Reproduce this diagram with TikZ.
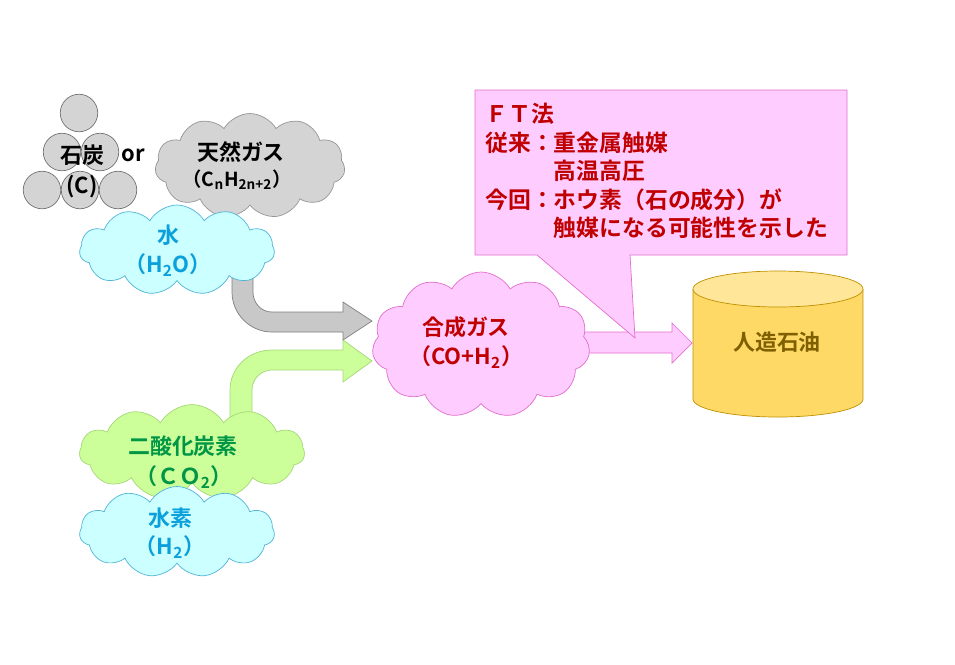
\documentclass[tikz,border=0pt]{standalone}
\usepackage{fontspec}
\setmainfont{Noto Sans CJK JP}[BoldFont={* Bold}]
\usetikzlibrary{shapes.symbols}
\definecolor{grayfill}{RGB}{212,212,212}
\definecolor{grayarrow}{RGB}{200,200,200}
\definecolor{graybd}{RGB}{150,150,150}
\definecolor{cyanfill}{RGB}{204,255,255}
\definecolor{cyanbd}{RGB}{80,180,215}
\definecolor{cyantext}{RGB}{10,160,220}
\definecolor{greenfill}{RGB}{204,255,153}
\definecolor{greenbd}{RGB}{165,215,120}
\definecolor{greentext}{RGB}{0,150,70}
\definecolor{pinkfill}{RGB}{255,204,255}
\definecolor{pinkbd}{RGB}{225,110,205}
\definecolor{redtext}{RGB}{192,0,0}
\definecolor{oilbody}{RGB}{255,217,102}
\definecolor{oiltop}{RGB}{255,230,153}
\definecolor{oilbd}{RGB}{191,144,0}
\definecolor{oiltext}{RGB}{127,96,0}
\begin{document}
\begin{tikzpicture}[x=0.02cm,y=-0.02cm,
  lbl/.style={font=\bfseries\fontsize{12.5}{17}\selectfont,align=center,inner sep=0},
  coal/.style={circle,draw=gray!90!black,fill=grayfill,minimum size=0.75cm,inner sep=0},
  puff/.style={cloud,cloud puffs=11,cloud puff arc=120,cloud ignores aspect,inner sep=0}]
\useasboundingbox (0,0) rectangle (955,664);
% coal
\node[coal] (c1) at (79,113) {};
\node[coal] (c2) at (62,152) {};
\node[coal] (c3) at (100,152) {};
\node[coal] (c4) at (42,190) {};
\node[coal] (c5) at (80,190) {};
\node[coal] (c6) at (118,190) {};
\node[lbl] (coaltxt) at (82,155) {石炭};
\node[lbl] (coalc) at (82,187) {(C)};
\node[lbl] (or) at (133,155) {or};
% natural gas
\node[puff,draw=graybd,fill=grayfill,minimum width=3.8cm,minimum height=2.1cm] (gas) at (250,166) {};
\node[lbl] (gastxt) at (241,152) {天然ガス};
\node[lbl,font=\bfseries\fontsize{11}{14}\selectfont] (gasf) at (237,180) {（C\textsubscript{n}H\textsubscript{2n+2}）};
% arrows into syngas
\filldraw[draw=gray,fill=grayarrow] (232,270) -- (232,292) .. controls (232,314) and (250,332) .. (272,332)
  -- (343,332) -- (343,340) -- (372,321) -- (343,302) -- (343,312) -- (272,312)
  .. controls (261,312) and (253,303) .. (253,292) -- (253,270) -- cycle;
\filldraw[draw=greenbd,fill=greenfill] (230,420) -- (230,390) .. controls (230,368) and (248,350) .. (272,350)
  -- (343,350) -- (343,340) -- (372,361) -- (343,382) -- (343,370) -- (272,370)
  .. controls (261,370) and (252,379) .. (252,390) -- (252,420) -- cycle;
% water
\node[puff,draw=cyanbd,fill=cyanfill,minimum width=3.9cm,minimum height=1.8cm] (water) at (177,250) {};
\node[lbl,text=cyantext] (watertxt) at (168,235) {水};
\node[lbl,text=cyantext] (waterf) at (168,265) {（H\textsubscript{2}O）};
% co2 and hydrogen
\node[puff,draw=greenbd,fill=greenfill,minimum width=4.5cm,minimum height=1.9cm] (co2) at (192,452) {};
\node[lbl,text=greentext] (co2txt) at (183,446) {二酸化炭素};
\node[lbl,text=greentext] (co2f) at (184,477) {（ＣＯ\textsubscript{2}）};
\node[puff,draw=cyanbd,fill=cyanfill,minimum width=3.9cm,minimum height=1.82cm] (hyd) at (177,532) {};
\node[lbl,text=cyantext] (hydtxt) at (170,518) {水素};
\node[lbl,text=cyantext] (hydf) at (170,547) {（H\textsubscript{2}）};
% syngas to oil
\filldraw[draw=pinkbd,fill=pinkfill] (570,332) -- (672,332) -- (672,323) -- (692,343) -- (672,363) -- (672,353) -- (570,353) -- cycle;
\node[puff,draw=pinkbd,fill=pinkfill,minimum width=4.36cm,minimum height=2.92cm] (syn) at (481,345) {};
\node[lbl,text=redtext] (syntxt) at (466,327) {合成ガス};
\node[lbl,text=redtext] (synf) at (466,357) {（CO+H\textsubscript{2}）};
% callout
\filldraw[draw=pinkbd,fill=pinkfill] (475,90) -- (847,90) -- (847,255) -- (630,255) -- (635,338) -- (537,255) -- (475,255) -- cycle;
\node[lbl,text=redtext,align=left,anchor=north west,font=\bfseries\fontsize{13}{16.2}\selectfont] (ft) at (485,103)
  {ＦＴ法\\従来：重金属触媒\\　　　高温高圧\\今回：ホウ素（石の成分）が\\　　　触媒になる可能性を示した};
% oil tank
\fill[oilbody] (693,289) rectangle (863,399);
\fill[oilbody] (778,399) ellipse [x radius=85,y radius=18];
\draw[oilbd] (693,289) -- (693,399) arc [start angle=180,end angle=0,x radius=85,y radius=18] -- (863,289);
\filldraw[draw=oilbd,fill=oiltop] (778,289) ellipse [x radius=85,y radius=18];
\node[lbl,text=oiltext] (oil) at (777,342) {人造石油};
\end{tikzpicture}
\end{document}
